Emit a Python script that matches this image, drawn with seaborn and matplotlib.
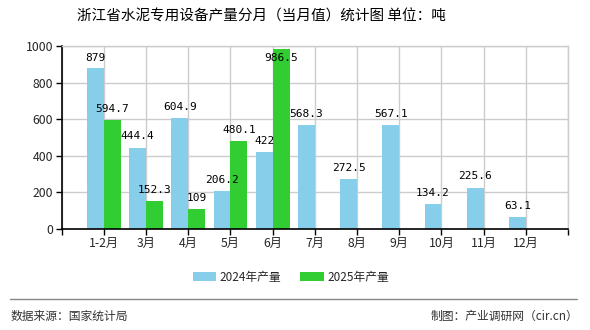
import matplotlib
matplotlib.use("Agg")
import matplotlib.pyplot as plt
import seaborn as sns
import pandas as pd
import numpy as np
from matplotlib.patches import Patch
from matplotlib.lines import Line2D

categories = ["1-2月", "3月", "4月", "5月", "6月", "7月", "8月", "9月", "10月", "11月", "12月"]
values_2024 = [879, 444.4, 604.9, 206.2, 422, 568.3, 272.5, 567.1, 134.2, 225.6, 63.1]
values_2025 = [594.7, 152.3, 109, 480.1, 986.5, None, None, None, None, None, None]
series_names = ["2024年产量", "2025年产量"]
colors = ["#87CEEB", "#32CD32"]

sns.set_style("white")
plt.rcParams["font.family"] = ["Noto Sans CJK SC", "DejaVu Sans"]

rows = []
for c, a, b in zip(categories, values_2024, values_2025):
    rows.append({"month": c, "series": series_names[0], "value": a})
    rows.append({"month": c, "series": series_names[1], "value": np.nan if b is None else b})
df = pd.DataFrame(rows)

fig = plt.figure(figsize=(5.9, 3.3), dpi=100)
ax = fig.add_axes([61.7 / 590, 1 - 229 / 330, (568 - 61.7) / 590, (229 - 46.3) / 330])

sns.barplot(data=df, x="month", y="value", hue="series", order=categories,
            hue_order=series_names, palette=colors, width=0.8, gap=0, saturation=1,
            ax=ax, legend=False, errorbar=None, edgecolor="none", linewidth=0)

ax.set_xlim(-1, len(categories))
ax.set_ylim(0, 1000)
ax.set_yticks(range(0, 1001, 200))
ax.set_xticks(range(-1, len(categories) + 1))
ax.set_xticklabels([""] + categories + [""])
ax.set_xlabel("")
ax.set_ylabel("")
ax.grid(True, color="#cccccc", linewidth=1)
ax.set_axisbelow(True)
for s in ["top", "right"]:
    ax.spines[s].set_color("#cccccc")
    ax.spines[s].set_linewidth(1)
for s in ["left", "bottom"]:
    ax.spines[s].set_color("black")
    ax.spines[s].set_linewidth(1.2)
ax.tick_params(axis="both", which="both", direction="out", length=4, width=1,
               color="black", labelsize=8.8, pad=2, bottom=True, left=True)

# value labels
for i, (a, b) in enumerate(zip(values_2024, values_2025)):
    for v, dx in ((a, -0.2), (b, 0.2)):
        if v is None:
            continue
        y = min(v + 62, 938)
        ax.text(i + dx, y, f"{v:g}", ha="center", va="center", fontsize=8,
                color="black", family=["DejaVu Sans Mono"])

fig.text(261 / 590, 1 - 17 / 330, "浙江省水泥专用设备产量分月（当月值）统计图 单位：吨",
         ha="center", va="center", fontsize=10.5, color="black")

handles = [Patch(facecolor=colors[0], edgecolor="none"), Patch(facecolor=colors[1], edgecolor="none")]
fig.legend(handles, series_names, loc="center", bbox_to_anchor=(291 / 590, 1 - 277 / 330),
           ncol=2, frameon=False, fontsize=8.5, handlelength=2.0, handleheight=0.9,
           handletextpad=0.3, columnspacing=1.6)

fig.add_artist(Line2D([10 / 590, 577 / 590], [1 - 299 / 330, 1 - 299 / 330],
                      color="#888888", linewidth=1, transform=fig.transFigure))
fig.text(11 / 590, 1 - 316 / 330, "数据来源：国家统计局", ha="left", va="center",
         fontsize=8.5, color="#333333")
fig.text(578 / 590, 1 - 316 / 330, "制图：产业调研网（cir.cn）", ha="right", va="center",
         fontsize=8.5, color="#333333")

fig.savefig("out.png", dpi=100)
